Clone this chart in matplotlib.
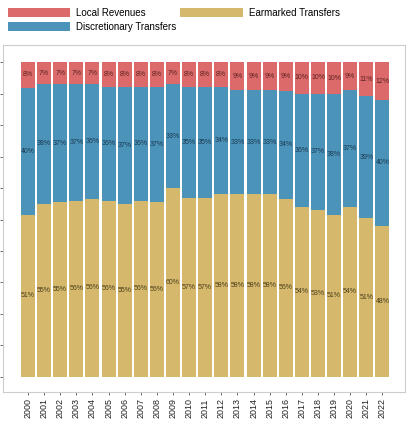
import matplotlib
matplotlib.use("Agg")
import matplotlib.pyplot as plt
import numpy as np

years = [str(y) for y in range(2000, 2023)]
local_rev = [8, 7, 7, 7, 7, 8, 8, 8, 8, 7, 8, 8, 8, 9, 9, 9, 9, 10, 10, 10, 9, 11, 12]
discretionary = [40, 38, 37, 37, 36, 36, 37, 36, 37, 33, 35, 35, 34, 33, 33, 33, 34, 36, 37, 38, 37, 39, 40]
earmarked = [51, 55, 55, 56, 56, 56, 55, 56, 56, 60, 57, 57, 58, 58, 58, 58, 56, 54, 53, 51, 54, 51, 48]

plt.rcParams['font.family'] = ['Liberation Sans', 'DejaVu Sans']

c_local = '#dc6a6a'
c_disc = '#4b93b9'
c_ear = '#d5b86b'

fig = plt.figure(figsize=(4.07, 4.22), dpi=100)
ax = fig.add_axes([0.0074, 0.071, 0.9876, 0.822])

x = np.arange(len(years))
w = 0.87
ear = np.array(earmarked, dtype=float)
disc = np.array(discretionary, dtype=float)
loc = np.array(local_rev, dtype=float)
tot = ear + disc + loc
ear_n = ear / tot * 100
disc_n = disc / tot * 100
loc_n = loc / tot * 100

b1 = ax.bar(x, ear_n, width=w, color=c_ear, label='Earmarked Transfers')
b2 = ax.bar(x, disc_n, width=w, bottom=ear_n, color=c_disc, label='Discretionary Transfers')
b3 = ax.bar(x, loc_n, width=w, bottom=ear_n + disc_n, color=c_local, label='Local Revenues')

fs = 5.0
for i in range(len(x)):
    ax.text(x[i], ear_n[i] / 2, f"{earmarked[i]}%", ha='center', va='center', fontsize=fs, color='#4a3e1c')
    ax.text(x[i], ear_n[i] + disc_n[i] / 2, f"{discretionary[i]}%", ha='center', va='center', fontsize=fs, color='#1b3a52')
    ax.text(x[i], ear_n[i] + disc_n[i] + loc_n[i] / 2, f"{local_rev[i]}%", ha='center', va='center', fontsize=fs, color='#5e2222')

ax.set_xlim(-1.55, 23.4)
ax.set_ylim(-4.8, 105.4)
ax.set_xticks(x)
ax.set_xticklabels(years, rotation=90, fontsize=6.4, color='#222222')
ax.set_yticks(np.arange(0, 101, 10))
ax.set_yticklabels([])
ax.tick_params(axis='both', length=2.5, width=0.6, color='#555555', pad=2)
for s in ax.spines.values():
    s.set_color('#cccccc')
    s.set_linewidth(0.8)

handles = [b3, b2, b1]
labels = ['Local Revenues', 'Discretionary Transfers', 'Earmarked Transfers']
fig.legend(handles, labels, ncol=2, loc='upper left', bbox_to_anchor=(0.0, 1.0),
           frameon=False, fontsize=7, handlelength=6.4, handleheight=1.05,
           labelspacing=0.45, columnspacing=0.4, handletextpad=0.65, borderpad=0.3)

fig.savefig('out.png', dpi=100)
